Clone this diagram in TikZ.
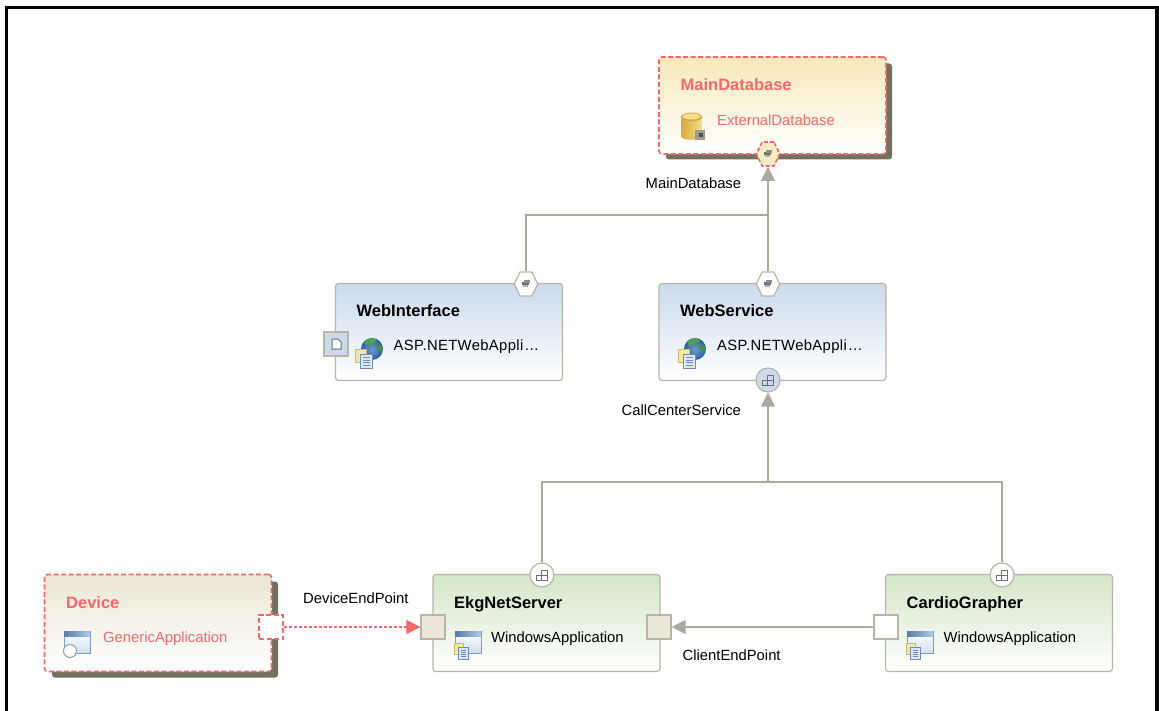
\documentclass[tikz,border=0pt]{standalone}
\usepackage{fontspec}
\setmainfont{Liberation Sans}
\usetikzlibrary{arrows.meta,shapes.geometric,calc}
\definecolor{edgegray}{HTML}{ADAA9D}
\definecolor{boxline}{HTML}{B8B5A8}
\definecolor{redline}{HTML}{F4686A}
\definecolor{shadowc}{HTML}{72705F}
\definecolor{winbar}{HTML}{6F9BD0}
\definecolor{winbord}{HTML}{7C9CC4}
\definecolor{winbody}{HTML}{E3EBF6}
\definecolor{docyel}{HTML}{F3E6A6}
\definecolor{docyelb}{HTML}{C9B97A}
\definecolor{docblue}{HTML}{DCE6F4}
\definecolor{docbord}{HTML}{6F8CBB}
\definecolor{globeb}{HTML}{2F6FB5}
\definecolor{globeg}{HTML}{4E9E55}
\definecolor{glyph}{HTML}{707070}
\definecolor{golddark}{HTML}{D9A93A}
\definecolor{goldlight}{HTML}{F6DF8C}
\tikzset{
  x=1pt,y=-1pt,
  box/.style={rectangle,rounded corners=3pt,minimum width=227pt,minimum height=97pt,inner sep=0pt,draw=boxline,line width=1.2pt,bottom color=white},
  redbox/.style={box,draw=redline,line width=1.6pt,dash pattern=on 5pt off 2.5pt},
  shad/.style={rectangle,rounded corners=3pt,minimum width=226pt,minimum height=96pt,inner sep=0pt,fill=shadowc},
  title/.style={font=\fontsize{16.5}{18}\selectfont\bfseries,anchor=base west,inner sep=0pt},
  sub/.style={font=\fontsize{14.8}{17}\selectfont,anchor=base west,inner sep=0pt},
  lab/.style={font=\fontsize{14.8}{17}\selectfont,anchor=base west,inner sep=0pt},
  hexport/.style={regular polygon,regular polygon sides=6,minimum size=26pt,inner sep=0pt,draw=boxline,fill=white,line width=1.2pt,transform shape,xscale=.9,yscale=1.07},
  circport/.style={circle,minimum size=24pt,inner sep=0pt,draw=boxline,line width=1.2pt,fill=white},
  sqport/.style={rectangle,minimum size=24pt,inner sep=0pt,draw=boxline,line width=1.2pt,fill={rgb,255:red,236;green,232;blue,217}},
  conn/.style={draw=edgegray,line width=1.3pt},
  arr/.style={-{Triangle[length=14pt,width=14pt,fill=edgegray]}},
}
% document pair: #1 = top-left of the yellow sheet, #2 = scale
\newcommand{\docicon}[2]{%
  \begin{scope}[shift={(#1)},scale=#2]
    \fill[docyel,draw=docyelb,line width=.6pt] (0,0) rectangle (11,13);
    \fill[docblue,draw=docbord,line width=.8pt] (5.5,5) rectangle (17,19);
    \foreach \yy in {8.5,11,13.5,16}{\draw[docbord,line width=.9pt] (8,\yy) -- (14.5,\yy);}
  \end{scope}}
\newcommand{\globeicon}[1]{%
  \begin{scope}[shift={(#1)}]
    \shade[inner color=globeb!70!white,outer color=globeb!85!black] (0,0) circle (11);
    \fill[globeg] (-8,-7) .. controls (-3,-12) and (3,-12) .. (5,-8) .. controls (1,-6) and (-2,-3) .. (-6,-3) -- cycle;
    \fill[globeg!90!black] (4,-4) .. controls (8,-6) and (11,-3) .. (10.5,2) .. controls (8,5) and (4,1) .. (4,-4) -- cycle;
  \end{scope}}
\newcommand{\winicon}[1]{%
  \begin{scope}[shift={(#1)}]
    \shade[top color=white,bottom color=winbody!85!winbar,draw=winbord,line width=1pt] (0,0) rectangle (26,22);
    \shade[left color=winbar!80!black,right color=winbar!55!white] (0,0) rectangle (26,5);
  \end{scope}}
\newcommand{\pluggrey}[1]{%
  \begin{scope}[shift={(#1)}]
    \fill[glyph] (-4,-2) rectangle (3,1.5);
    \fill[glyph!80] (-2,-4) rectangle (4,-1);
    \fill[glyph!55] (-3,1.5) rectangle (2,3.5);
  \end{scope}}
\newcommand{\blocksicon}[1]{%
  \begin{scope}[shift={(#1)}]
    \draw[glyph,line width=.9pt] (-6,0) rectangle (-1,5);
    \draw[glyph,line width=.9pt] (-1,-5) rectangle (5,0);
    \draw[glyph,line width=.9pt] (-1,0) rectangle (5,5);
  \end{scope}}
\newcommand{\aspname}{{\addfontfeature{LetterSpace=2.5}ASP.NETWebAppli}\kern1pt\ldots}
\begin{document}
\begin{tikzpicture}
\useasboundingbox (0,0) rectangle (1159,711);
\fill[white] (0,0) rectangle (1159,711);
\fill[black] (5,6) rectangle (1159,9);
\fill[black] (5,6) rectangle (8,711);
\fill[black] (1155,6) rectangle (1159,711);
% shadows
\node[shad] (s1) at (779,111.5) {};
\node[shad] (s2) at (165,629.5) {};
% boxes
\node[redbox,top color={rgb,255:red,248;green,233;blue,186}] (maindb) at (772.5,105.5) {};
\node[box,top color={rgb,255:red,203;green,218;blue,236}] (webif) at (449,332) {};
\node[box,top color={rgb,255:red,203;green,218;blue,236}] (websvc) at (772.5,332) {};
\node[redbox,top color={rgb,255:red,235;green,230;blue,213}] (device) at (158,623) {};
\node[box,top color={rgb,255:red,212;green,230;blue,200}] (ekg) at (546.5,623) {};
\node[box,top color={rgb,255:red,212;green,230;blue,200}] (cardio) at (999,623) {};
% ports
\node[hexport,draw=redline,fill={rgb,255:red,250;green,236;blue,196},dash pattern=on 4pt off 2pt,line width=1.6pt] (pmain) at (768,154) {};
\node[hexport] (pif) at (526,284) {};
\node[hexport] (psvc) at (768,284) {};
\node[circport,fill={rgb,255:red,204;green,218;blue,236}] (pcall) at (768,380) {};
\node[circport] (pekgtop) at (542,575) {};
\node[circport] (pcardtop) at (1002,575) {};
\node[sqport,fill={rgb,255:red,203;green,216;blue,232}] (pweb) at (336,344) {};
\node[sqport,fill=white,draw=redline,dash pattern=on 5pt off 2.5pt,line width=1.6pt] (pdev) at (271,627) {};
\node[sqport] (pekgl) at (433,627) {};
\node[sqport] (pekgr) at (659,627) {};
\node[sqport,fill=white] (pcard) at (886,627) {};
\coordinate (j1) at (768,215);
\coordinate (j2) at (768,482);
% connectors
\draw[conn] (pif.north) -- (pif.north |- j1) -- (j1);
\draw[conn,arr] (psvc.north) -- (pmain.south);
\draw[conn] (pekgtop.north) -- (pekgtop.north |- j2) -- (j2);
\draw[conn] (pcardtop.north) -- (pcardtop.north |- j2) -- (j2);
\draw[conn,arr] (j2) -- (pcall.south);
\draw[conn,arr] (pcard.west) -- (pekgr.east);
\draw[redline,line width=1.3pt,dash pattern=on 3pt off 2pt,-{Triangle[length=14pt,width=14pt,fill=redline]}] (pdev.east) -- (pekgl.west);
% port glyphs
\pluggrey{768,154}
\pluggrey{526,284}
\pluggrey{768,284}
\blocksicon{768,380}
\blocksicon{542,575}
\blocksicon{1002,575}
\fill[white,draw=glyph,line width=1pt] (332,339) -- (338,339) -- (341,342) -- (341,349) -- (332,349) -- cycle;
% database icon
\shade[left color=golddark,right color=goldlight] (681,117) -- (681,136) .. controls (681,141) and (702,141) .. (702,136) -- (702,117) -- cycle;
\fill[golddark] (691.5,117) ellipse (10.5 and 4.5);
\fill[goldlight] (691.5,116.5) ellipse (9 and 3);
\fill[glyph!70] (695,130) rectangle (705,140);
\fill[glyph!70!black] (699,133) rectangle (703,137);
% globes and windows
\globeicon{372,349}
\docicon{355,349}{1}
\globeicon{695,349}
\docicon{678,349}{1}
\winicon{64,631}
\fill[white,draw=glyph!70,line width=1pt] (70,651) circle (6.5);
\winicon{455,631}\docicon{454,643}{.85}
\winicon{907,631}\docicon{906,643}{.85}
% texts
\node[title,text=redline] (t1) at (680.5,91) {MainDatabase};
\node[sub,text=redline] (t2) at (717,126) {ExternalDatabase};
\node[title] (t3) at (356.5,316.5) {WebInterface};
\node[sub] (t4) at (393.5,350.5) {\aspname};
\node[title] (t5) at (680,316.5) {WebService};
\node[sub] (t6) at (717,350.5) {\aspname};
\node[title,text=redline] (t7) at (66,608) {Device};
\node[sub,text=redline] (t8) at (103,642) {GenericApplication};
\node[title] (t9) at (454,608) {EkgNetServer};
\node[sub] (t10) at (491,642) {WindowsApplication};
\node[title] (t11) at (906.5,608) {CardioGrapher};
\node[sub] (t12) at (943.5,642) {WindowsApplication};
\node[lab] (l1) at (645.5,189) {MainDatabase};
\node[lab] (l2) at (621.5,415) {CallCenterService};
\node[lab] (l3) at (303,603) {DeviceEndPoint};
\node[lab] (l4) at (682.5,660) {ClientEndPoint};
\end{tikzpicture}
\end{document}
